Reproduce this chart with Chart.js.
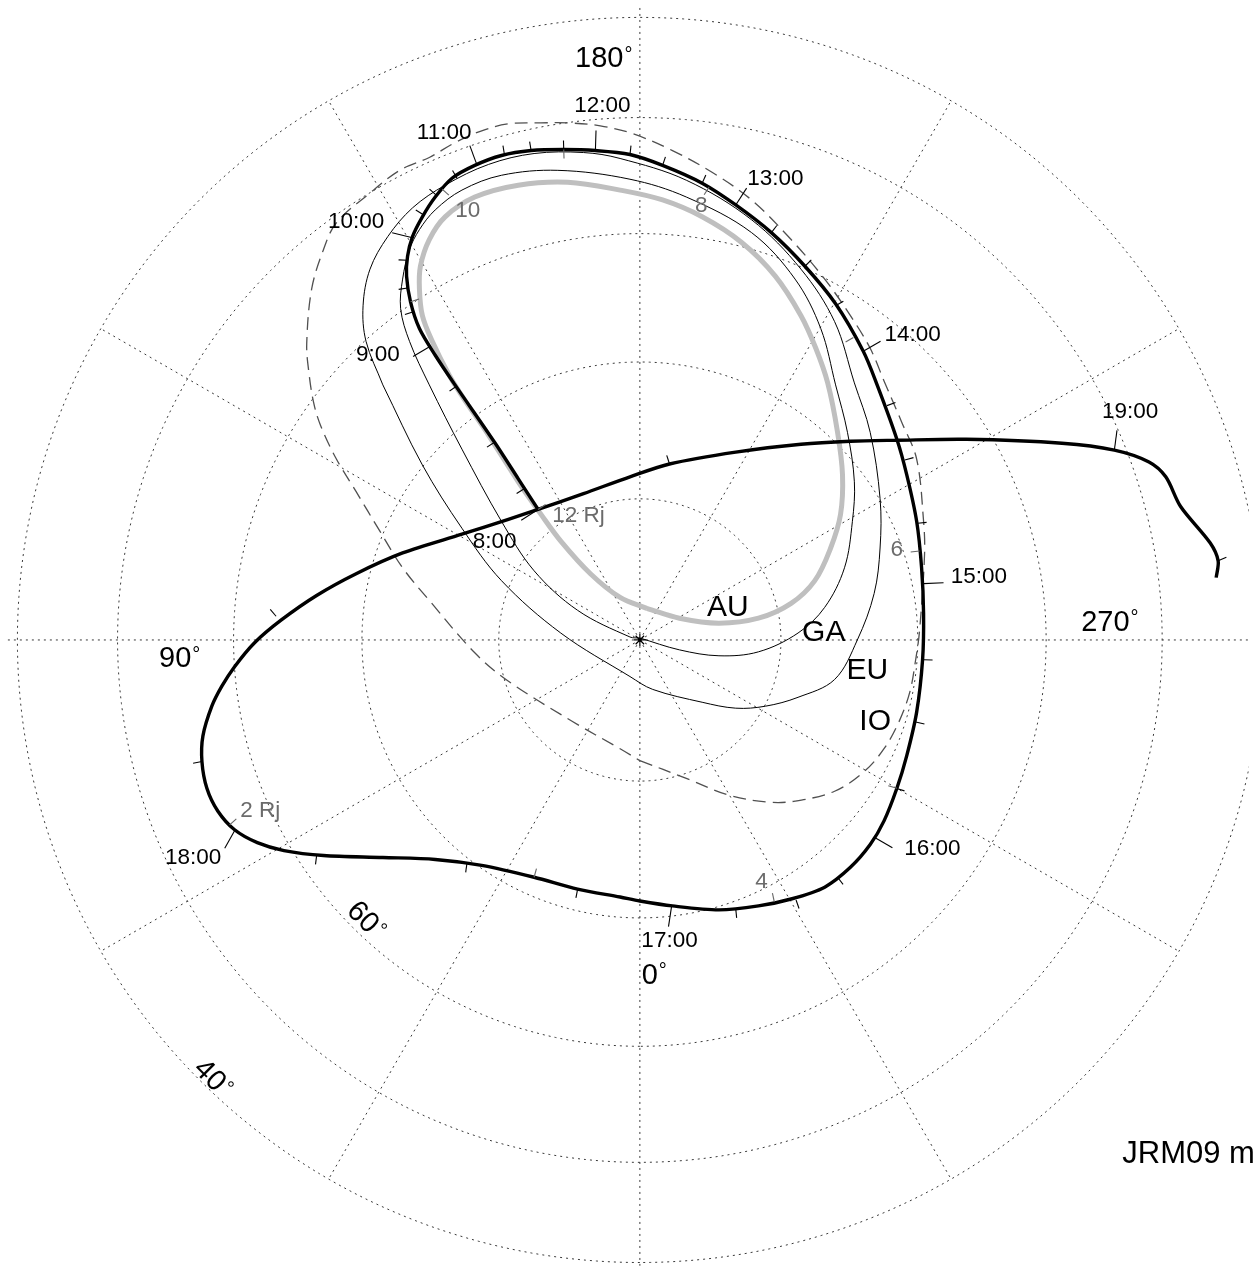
<!DOCTYPE html>
<html><head><meta charset="utf-8">
<script src="https://cdn.jsdelivr.net/npm/chart.js@4.4.1/dist/chart.umd.min.js"></script>
<style>html,body{margin:0;padding:0;background:#fff;overflow:hidden}canvas{display:block}</style>
</head><body>
<canvas id="c" width="1256" height="1273"></canvas>
<script>
// ---- Data (projected polar-plane coordinates, pole at 0,0) ----
const latCircles = [80, 70, 60, 50, 40];
const meridians = [0, 30, 60, 90, 120, 150, 180, 210, 240, 270, 300, 330];

// Juno footprint track (thick black)
const trackX = [-103,-123,-147,-187,-207,-223,-232,-236,-235,-230,-220,-207,-190,-167,-140,-110,-77,-45,-10,23,63,97,133,167,198,226,240,260,270,280,285,287,286,280,270,260,247,233,213,187,153,120,80,33,0,-20,-63,-107,-160,-207,-260,-320,-360,-387,-410,-427,-438,-443,-442,-433,-423,-410,-390,-363,-327,-287,-240,-180,-133,-103,-57,-10,30,97,163,213,260,330,427,480,515,532,547,577,585,583];
const trackY = [132,163,200,258,288,315,342,368,388,408,428,448,467,480,490,495,496,495,491,480,462,440,412,378,340,292,258,203,167,120,73,27,-20,-73,-117,-150,-183,-207,-230,-250,-262,-269,-273,-269,-264,-260,-252,-240,-228,-222,-220,-218,-213,-205,-192,-173,-150,-123,-97,-67,-47,-27,-3,20,45,67,88,107,122,132,148,165,178,190,198,201,202,203,199,192,180,165,135,98,80,63];

// AU oval (grey)
const auX = [7,40,80,120,153,177,193,203,205,200,190,178,163,137,103,63,23,-20,-73,-123,-167,-197,-213,-222,-223,-220,-210,-193,-180,-153,-123,-100,-80,-50,-20,7];
const auY = [32,22,17,22,37,60,93,127,167,210,260,295,328,368,402,428,445,455,463,460,448,428,405,378,355,328,302,268,247,207,160,127,100,67,43,32];

// GA footprint oval
const gaX = [0,-10,-63,-107,-140,-180,-213,-233,-242,-240,-233,-223,-207,-180,-140,-83,-10,47,113,157,183,198,210,217,215,207,187,160,120,80,40,0];
const gaY = [2,3,30,70,120,193,258,302,335,365,395,415,435,455,470,475,466,448,412,365,315,258,210,160,120,73,33,7,-12,-16,-10,2];

// EU footprint oval
const euX = [-260,-277,-280,-273,-255,-230,-197,-153,-107,-57,-20,47,113,163,197,217,233,243,243,237,220,197,160,127,97,63,13,-10,-80,-140,-180,-220,-260];
const euY = [258,302,338,375,408,437,460,481,492,493,487,465,425,375,322,260,210,143,93,47,0,-40,-58,-67,-69,-63,-50,-37,7,60,113,177,258];

// IO footprint oval (dashed)
const ioX = [0,47,90,130,157,197,227,247,262,273,279,283,288,287,280,265,247,233,213,187,153,113,73,33,-7,-40,-73,-100,-133,-160,-187,-213,-243,-273,-307,-320,-332,-337,-335,-330,-323,-307,-287,-263,-240,-213,-167,-134,-69,-20,0];
const ioY = [-122,-140,-157,-164,-163,-153,-133,-110,-83,-53,-20,10,87,120,183,220,262,295,328,365,405,445,473,495,512,520,523,523,522,515,503,488,475,452,422,395,355,300,272,240,217,183,150,110,73,40,-13,-41,-82,-110,-122];

// Hourly time marks along the track
const hourMarkLabel = ['8:00','9:00','10:00','11:00','12:00','13:00','14:00','15:00','16:00','17:00','18:00','19:00'];
const hourMarkX = [-103,-212,-231,-165,-45,97,226,287,238,32,-410,480];
const hourMarkY = [132,297,407,481,495,440,292,57,-200,-270,-193,192];

// 15-minute marks
const minorMarkX = [-117,-147,-185,-229,-235,-235,-219,-206,-185,-137,-110,-77,-10,23,63,133,167,198,250,268,281,287,279,259,200,158,97,-63,-175,-327,-443,-368,30,585];
const minorMarkY = [153,200,257,332,356,384,430,450,467,491,495,496,491,480,462,412,378,338,237,182,118,-20,-83,-150,-240,-263,-272,-252,-226,-218,-123,24,178,80];

// Radial distance marks (Rj)
const rjMarkLabel = ['12 Rj','','10','','8','','6','','4','','2 Rj'];
const rjMarkX = [-103,-232,-200,-77,70,216,283,260,136,-107,-415];
const rjMarkY = [132,342,456,496,458,306,90,-150,-265,-240,-187];

// Text labels
const moonLabels = ['AU','GA','EU','IO'];
const lonLabels = ['0','90','180','270'];
const latLabels = ['60','40'];
const modelLabel = 'JRM09 model';

// ---- Layout / style (not data) ----
const sphereR = 822;
const FONT = "'Liberation Sans', Arial, Helvetica, sans-serif";
const hourLabelPos = [[-147,99],[-265,288],[-287,423],[-198,513],[-38,540],[137,466],[276,309],[343,64],[296,-211],[30,-304],[-452,-220],[496,231]];
const rjLabelPos = [[-62,126],null,[-174,434],null,[62,439],null,[260,91],null,[123,-245],null,[-384,-173]];
const moonLabelPos = [[89,33],[186,7],[230,-31],[238,-83]];
const lonLabelPos = [[14,-337],[-466,-17],[-37,590],[475,20]];
const latLabelPos = [[-276,-282],[-431,-442]];
const modelLabelPos = [488,-520];

const pts = (xs, ys) => xs.map((v, i) => ({x: v, y: ys[i]}));
const rad = d => d * Math.PI / 180;
const dir = lon => [-Math.sin(rad(lon)), -Math.cos(rad(lon))];

const gridStyle = {showLine: true, borderColor: '#3a3a3a', borderWidth: 1, borderDash: [2, 4], pointRadius: 0, tension: 0, fill: false, order: 9};
const datasets = [];
latCircles.forEach(lat => {
  const r = sphereR * Math.cos(rad(lat));
  const p = [];
  for (let a = 0; a <= 360; a += 1) { const d = dir(a); p.push({x: r * d[0], y: r * d[1]}); }
  datasets.push(Object.assign({data: p}, gridStyle));
});
meridians.forEach(lon => {
  const r = (lon % 90 === 0) ? 720 : sphereR * Math.cos(rad(40));
  const d = dir(lon);
  datasets.push(Object.assign({data: [{x: 0, y: 0}, {x: r * d[0], y: r * d[1]}]}, gridStyle));
});
datasets.push({data: pts(ioX, ioY), showLine: true, borderColor: '#505050', borderWidth: 1.3, borderDash: [13, 7], pointRadius: 0, tension: 0.35, order: 5});
datasets.push({data: pts(euX, euY), showLine: true, borderColor: '#000', borderWidth: 1, pointRadius: 0, tension: 0.35, order: 4});
datasets.push({data: pts(gaX, gaY), showLine: true, borderColor: '#000', borderWidth: 1, pointRadius: 0, tension: 0.35, order: 4});
datasets.push({data: pts(auX, auY), showLine: true, borderColor: '#bfbfbf', borderWidth: 5, pointRadius: 0, tension: 0.35, order: 3});
datasets.push({data: pts(trackX, trackY), showLine: true, borderColor: '#000', borderWidth: 3.4, pointRadius: 0, tension: 0.3, borderJoinStyle: 'round', order: 1});
datasets.push({data: [{x: 0, y: 0}], showLine: false, pointStyle: 'star', pointRadius: 6, borderColor: '#000', backgroundColor: '#000', borderWidth: 1.2, order: 0});

const overlay = {
  id: 'overlay',
  afterDatasetsDraw(chart) {
    const ctx = chart.ctx, sx = chart.scales.x, sy = chart.scales.y;
    const P = (x, y) => [sx.getPixelForValue(x), sy.getPixelForValue(y)];
    const track = trackX.map((v, i) => P(v, trackY[i]));
    function direction(p) {
      let best = Infinity, d = [1, 0];
      for (let i = 0; i < track.length - 1; i++) {
        const a = track[i], b = track[i + 1];
        const vx = b[0] - a[0], vy = b[1] - a[1];
        const L2 = vx * vx + vy * vy; if (!L2) continue;
        let t = ((p[0] - a[0]) * vx + (p[1] - a[1]) * vy) / L2;
        t = Math.max(0, Math.min(1, t));
        const ex = a[0] + t * vx - p[0], ey = a[1] + t * vy - p[1];
        const dd = ex * ex + ey * ey;
        if (dd < best - 0.5) { best = dd; const L = Math.sqrt(L2); d = [vx / L, vy / L]; }
      }
      return d;
    }
    function tick(x, y, len, side, color) {
      const p = P(x, y), d = direction(p);
      const nx = d[1] * side, ny = -d[0] * side;
      ctx.beginPath(); ctx.moveTo(p[0], p[1]); ctx.lineTo(p[0] + nx * len, p[1] + ny * len);
      ctx.strokeStyle = color; ctx.lineWidth = 1.1; ctx.setLineDash([]); ctx.stroke();
    }
    function text(str, pos, size, color, rot, align) {
      const p = P(pos[0], pos[1]);
      ctx.save(); ctx.translate(p[0], p[1]); if (rot) ctx.rotate(rad(rot));
      ctx.font = size + 'px ' + FONT; ctx.fillStyle = color;
      ctx.textAlign = align || 'center'; ctx.textBaseline = 'middle';
      ctx.fillText(str, 0, 0); ctx.restore();
    }
    // number with a small raised degree sign
    function degText(num, pos, size, rot) {
      const p = P(pos[0], pos[1]);
      ctx.save(); ctx.translate(p[0], p[1]); if (rot) ctx.rotate(rad(rot));
      const small = Math.round(size * 0.68);
      ctx.font = size + 'px ' + FONT; const wn = ctx.measureText(num).width;
      ctx.font = small + 'px ' + FONT; const wd = ctx.measureText('\u00B0').width;
      const x0 = -(wn + wd) / 2, base = size * 0.358;
      ctx.fillStyle = '#000'; ctx.textAlign = 'left'; ctx.textBaseline = 'alphabetic';
      ctx.font = size + 'px ' + FONT; ctx.fillText(num, x0, base);
      ctx.font = small + 'px ' + FONT; ctx.fillText('\u00B0', x0 + wn + 1, base - size * 0.716 + small * 0.72);
      ctx.restore();
    }
    ctx.save();
    ctx.lineCap = 'butt';
    minorMarkX.forEach((x, i) => tick(x, minorMarkY[i], 9, 1, '#000'));
    hourMarkX.forEach((x, i) => tick(x, hourMarkY[i], 20, 1, '#000'));
    rjMarkX.forEach((x, i) => tick(x, rjMarkY[i], 9, -1, '#666'));
    hourMarkLabel.forEach((t, i) => text(t, hourLabelPos[i], 22.5, '#000'));
    rjMarkLabel.forEach((t, i) => { if (t) text(t, rjLabelPos[i], 22.5, '#6b6b6b'); });
    moonLabels.forEach((t, i) => text(t, moonLabelPos[i], 30, '#000'));
    lonLabels.forEach((t, i) => degText(t, lonLabelPos[i], 29));
    latLabels.forEach((t, i) => degText(t, latLabelPos[i], 29, 45));
    text(modelLabel, modelLabelPos, 31, '#000', 0, 'left');
    ctx.restore();
  }
};

new Chart(document.getElementById('c'), {
  type: 'scatter',
  data: {datasets},
  options: {
    responsive: false, animation: false, devicePixelRatio: 1,
    layout: {padding: 0},
    plugins: {legend: {display: false}, tooltip: {enabled: false}},
    scales: {
      x: {type: 'linear', min: -640, max: 616, display: false},
      y: {type: 'linear', min: -633, max: 640, display: false}
    },
    elements: {line: {capBezierPoints: false}}
  },
  plugins: [overlay]
});
</script>
</body></html>
